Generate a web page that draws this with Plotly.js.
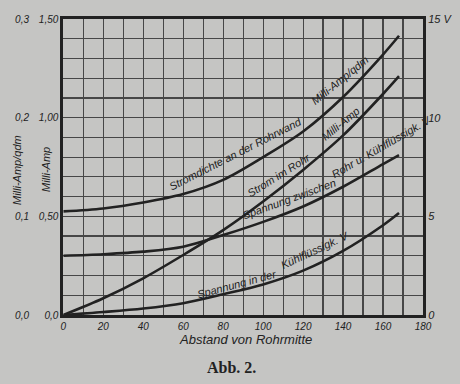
<!DOCTYPE html>
<html>
<head>
<meta charset="utf-8">
<script src="https://cdn.plot.ly/plotly-3.0.1.min.js"></script>
<style>html,body{margin:0;padding:0;background:#c5c5c3;}#chart{width:460px;height:384px;}</style>
</head>
<body>
<div id="chart"></div>
<script>
// Abstand von Rohrmitte
const abstand = [0, 20, 40, 60, 80, 100, 120, 140, 160, 168];
// Stromdichte an der Rohrwand, Milli-Amp/qdm
const stromdichte = [0.105, 0.108, 0.114, 0.1226, 0.137, 0.160, 0.186, 0.221, 0.264, 0.283];
// Strom im Rohr, Milli-Amp
const stromImRohr = [0, 0.085, 0.186, 0.304, 0.43, 0.575, 0.735, 0.91, 1.12, 1.21];
// Spannung zwischen Rohr u. Kühlflüssigk., V
const spannungZwischen = [3.0, 3.08, 3.21, 3.46, 4.05, 4.72, 5.5, 6.5, 7.65, 8.1];
// Spannung in der Kühlflüssigk., V
const spannungKuehl = [0, 0.15, 0.33, 0.6, 1.05, 1.55, 2.25, 3.25, 4.55, 5.17];

const xTicks = [0, 20, 40, 60, 80, 100, 120, 140, 160, 180];
const maTickVals = [0, 0.5, 1.0, 1.5];
const maTickText = ["0,0", "0,50", "1,00", "1,50"];
const qdmTickVals = [0, 0.1, 0.2, 0.3];
const qdmTickText = ["0,0", "0,1", "0,2", "0,3"];
const vTickVals = [0, 5, 10, 15];
const vTickText = ["0", "5", "10", "15 V"];

const W = 460, H = 384, L = 29, R = 37, T = 19, B = 69;
const px = x => (x - L) / (W - L - R);
const py = y => (H - B - y) / (H - T - B);

const ink = '#222222';
const gridc = '#474747';
const bg = '#c5c5c3';
const lineStyle = {color: ink, width: 2.6, shape: 'spline', smoothing: 0.9};

const traces = [
  {x: abstand, y: stromdichte, yaxis: 'y3', mode: 'lines', line: lineStyle, hoverinfo: 'skip'},
  {x: abstand, y: stromImRohr, yaxis: 'y', mode: 'lines', line: lineStyle, hoverinfo: 'skip'},
  {x: abstand, y: spannungZwischen, yaxis: 'y2', mode: 'lines', line: lineStyle, hoverinfo: 'skip'},
  {x: abstand, y: spannungKuehl, yaxis: 'y2', mode: 'lines', line: lineStyle, hoverinfo: 'skip'}
];

const tf = {family: 'Liberation Sans, Arial, sans-serif', size: 10, style: 'italic', color: ink};
const lf = {family: 'Liberation Sans, Arial, sans-serif', size: 11, style: 'italic', color: ink};

function ann(text, x, y, angle, font) {
  return {text: text, xref: 'paper', yref: 'paper', x: px(x), y: py(y), xanchor: 'center', yanchor: 'middle',
          textangle: angle, showarrow: false, font: font};
}

const layout = {
  width: W, height: H,
  margin: {l: L, r: R, t: T, b: B, pad: 0},
  paper_bgcolor: bg, plot_bgcolor: bg,
  showlegend: false,
  xaxis: {
    domain: [(63.3 - L) / (W - L - R), 1],
    range: [0, 180], tickvals: xTicks, ticktext: xTicks.map(String),
    showgrid: true, gridcolor: gridc, gridwidth: 1.2,
    minor: {tickmode: 'linear', tick0: 0, dtick: 10, showgrid: true, gridcolor: gridc, gridwidth: 1.2, ticks: ''},
    showline: true, linecolor: ink, linewidth: 3, mirror: true,
    zeroline: false, ticks: '', tickfont: tf, fixedrange: true
  },
  yaxis: {
    range: [0, 1.5], tickvals: maTickVals, ticktext: maTickText,
    showgrid: true, gridcolor: gridc, gridwidth: 1.2,
    minor: {tickmode: 'linear', tick0: 0, dtick: 0.1, showgrid: true, gridcolor: gridc, gridwidth: 1.2, ticks: ''},
    showline: true, linecolor: ink, linewidth: 3, mirror: true,
    zeroline: false, ticks: '', tickfont: tf, fixedrange: true
  },
  yaxis2: {
    overlaying: 'y', side: 'right', anchor: 'x',
    range: [0, 15], tickvals: vTickVals, ticktext: vTickText,
    showgrid: false, zeroline: false, showline: false,
    ticks: 'outside', ticklen: 2, tickcolor: 'rgba(0,0,0,0)', tickfont: Object.assign({}, tf, {size: 11}), fixedrange: true
  },
  yaxis3: {
    overlaying: 'y', side: 'left', anchor: 'free', position: 0,
    range: [0, 0.3], tickvals: qdmTickVals, ticktext: qdmTickText,
    showgrid: false, zeroline: false, showline: false,
    ticks: '', tickfont: tf, fixedrange: true
  },
  annotations: [
    ann('Stromdichte an der Rohrwand', 235, 154, -27, lf),
    ann('Milli-Amp/qdm', 340, 80, -39, lf),
    ann('Strom im Rohr', 279, 175, -32, lf),
    ann('Milli-Amp', 340, 124, -39, lf),
    ann('Spannung zwischen', 289, 199, -20, lf),
    ann('Rohr u. Kühlflüssigk. V', 381, 147, -30, lf),
    ann('Spannung in der', 237, 284, -15, lf),
    ann('Kühlflüssigk. V', 315, 250, -25, lf),
    ann('Milli-Amp/qdm', 17, 170, -90, lf),
    ann('Milli-Amp', 46, 170, -90, lf),
    ann('Abstand von Rohrmitte', 245, 339, 0, {family: 'Liberation Sans, Arial, sans-serif', size: 13, style: 'italic', color: ink}),
    ann('Abb. 2.', 231, 367, 0, {family: 'Liberation Serif, serif', size: 16, weight: 'bold', color: ink})
  ]
};

Plotly.newPlot('chart', traces, layout, {staticPlot: true, displayModeBar: false});
</script>
</body>
</html>
